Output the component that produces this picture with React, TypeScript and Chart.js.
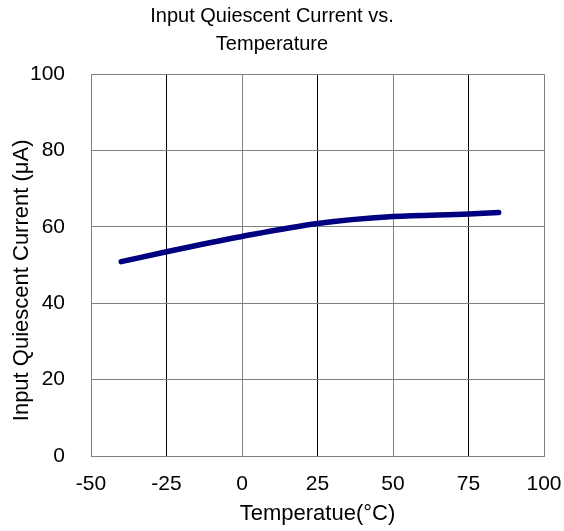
import React, { useEffect, useRef } from "react";
import { Chart, registerables } from "chart.js";

Chart.register(...registerables);

const temperatures = [-40, -25, 0, 25, 50, 75, 85];
const currents = [50.9, 53.5, 57.5, 60.9, 62.7, 63.4, 63.8];
const xTicks = [-50, -25, 0, 25, 50, 75, 100];
const yTicks = [0, 20, 40, 60, 80, 100];

export default function App() {
  const ref = useRef<HTMLCanvasElement>(null);
  useEffect(() => {
    if (!ref.current) return;
    const font = "'Liberation Sans', Arial, sans-serif";
    const chart = new Chart(ref.current, {
      type: "scatter",
      data: {
        datasets: [
          {
            data: temperatures.map((t, i) => ({ x: t, y: currents[i] })),
            showLine: true,
            borderColor: "#000080",
            backgroundColor: "#000080",
            borderWidth: 5.5,
            borderCapStyle: "round",
            pointRadius: 0,
            cubicInterpolationMode: "monotone",
          },
        ],
      },
      options: {
        animation: false,
        responsive: false,
        layout: { padding: { left: 0, right: 20, top: 0, bottom: 0 } },
        plugins: {
          legend: { display: false },
          tooltip: { enabled: false },
          title: {
            display: true,
            text: ["Input Quiescent Current vs.", "Temperature"],
            color: "#000",
            font: { family: font, size: 20, weight: "normal", lineHeight: 1.38 },
            padding: { top: 3, bottom: 16 },
          },
        },
        scales: {
          x: {
            type: "linear",
            min: -50,
            max: 100,
            afterBuildTicks: (s: any) => {
              s.ticks = xTicks.map((v) => ({ value: v }));
            },
            afterFit: (s: any) => {
              s.height = 75;
              s.paddingLeft = 0;
              s.paddingRight = 0;
            },
            grid: {
              color: (c: any) => (c.tick && [-25, 25, 75].includes(c.tick.value) ? "#000" : "#808080"),
              lineWidth: 1,
              drawTicks: false,
            },
            border: { color: "#808080", width: 1 },
            ticks: {
              color: "#000",
              padding: 16,
              maxRotation: 0,
              font: { family: font, size: 21 },
            },
            title: {
              display: true,
              text: "Temperatue(°C)",
              color: "#000",
              font: { family: font, size: 22 },
              padding: { top: 6, bottom: 4 },
            },
          },
          y: {
            type: "linear",
            min: 0,
            max: 100,
            afterBuildTicks: (s: any) => {
              s.ticks = yTicks.map((v) => ({ value: v }));
            },
            afterFit: (s: any) => {
              s.width = 91;
            },
            grid: { color: "#808080", lineWidth: 1, drawTicks: false },
            border: { color: "#808080", width: 1 },
            ticks: {
              color: "#000",
              padding: 26,
              font: { family: font, size: 21 },
            },
            title: {
              display: true,
              text: "Input Quiescent Current (μA)     ",
              color: "#000",
              font: { family: font, size: 22 },
              padding: { top: 9, bottom: 0 },
            },
          },
        },
      },
    });
    return () => chart.destroy();
  }, []);
  return (
    <div style={{ position: "fixed", left: 0, top: 0, width: 564, height: 531, background: "#fff" }}>
      <canvas ref={ref} width={564} height={531} style={{ display: "block" }} />
    </div>
  );
}
